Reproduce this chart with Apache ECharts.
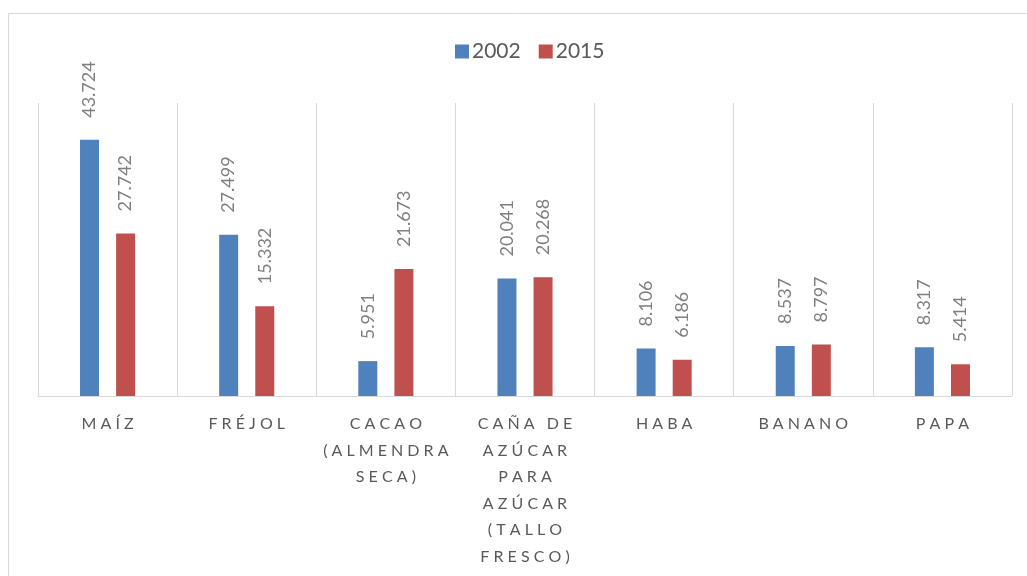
<!DOCTYPE html>
<html>
<head>
<meta charset="utf-8">
<script src="https://cdn.jsdelivr.net/npm/echarts@6/dist/echarts.min.js"></script>
<style>
  html, body { margin: 0; padding: 0; background: #fff; }
  #chart { width: 1027px; height: 576px; }
</style>
</head>
<body>
<div id="chart"></div>
<script>
// categorias (con saltos de linea como en el original)
var categories = ['MAÍZ', 'FRÉJOL', 'CACAO\n(ALMENDRA\nSECA)', 'CAÑA DE\nAZÚCAR\nPARA\nAZÚCAR\n(TALLO\nFRESCO)', 'HABA', 'BANANO', 'PAPA'];
var seriesNames = ['2002', '2015'];
var data2002 = [43.724, 27.499, 5.951, 20.041, 8.106, 8.537, 8.317];
var data2015 = [27.742, 15.332, 21.673, 20.268, 6.186, 8.797, 5.414];

var chart = echarts.init(document.getElementById('chart'));

// espaciado de letras tipo Excel
function spaced(v) {
  return v.split('\n').map(function (line) {
    return line.split(' ').map(function (w) { return w.split('').join(' '); }).join('   ');
  }).join('\n');
}

var labelCfg = {
  show: true,
  position: 'top',
  rotate: 90,
  align: 'left',
  verticalAlign: 'middle',
  distance: 22,
  color: '#7f7f7f',
  fontSize: 18,
  fontFamily: 'Lato',
  formatter: function (p) { return p.value.toFixed(3); }
};

chart.setOption({
  animation: false,
  textStyle: { fontFamily: 'Lato' },
  graphic: [{
    type: 'rect',
    shape: { x: 8.5, y: 13.5, width: 1030, height: 580 },
    style: { fill: 'none', stroke: '#d9d9d9', lineWidth: 1 },
    silent: true
  }],
  legend: {
    data: seriesNames,
    top: 41,
    left: 455,
    icon: 'rect',
    itemWidth: 14,
    itemHeight: 14,
    itemGap: 18,
    padding: 0,
    textStyle: { color: '#595959', fontSize: 21, padding: [0, 0, 0, -2] }
  },
  grid: { left: 38, right: 15, top: 103, bottom: 180 },
  xAxis: {
    type: 'category',
    data: categories,
    axisLine: { lineStyle: { color: '#d9d9d9', width: 1 } },
    axisTick: { show: false },
    splitLine: { show: true, lineStyle: { color: '#d9d9d9', width: 1 } },
    axisLabel: {
      interval: 0,
      margin: 15,
      color: '#595959',
      fontSize: 16,
      lineHeight: 26.5,
      formatter: spaced
    }
  },
  yAxis: {
    type: 'value',
    min: 0,
    max: 50,
    show: false,
    splitLine: { show: false }
  },
  series: [
    {
      name: seriesNames[0],
      type: 'bar',
      data: data2002,
      barWidth: 19,
      barGap: '90%',
      itemStyle: { color: '#4f81bd' },
      label: labelCfg
    },
    {
      name: seriesNames[1],
      type: 'bar',
      data: data2015,
      barWidth: 19,
      barGap: '90%',
      itemStyle: { color: '#c0504d' },
      label: labelCfg
    }
  ]
});
</script>
</body>
</html>
